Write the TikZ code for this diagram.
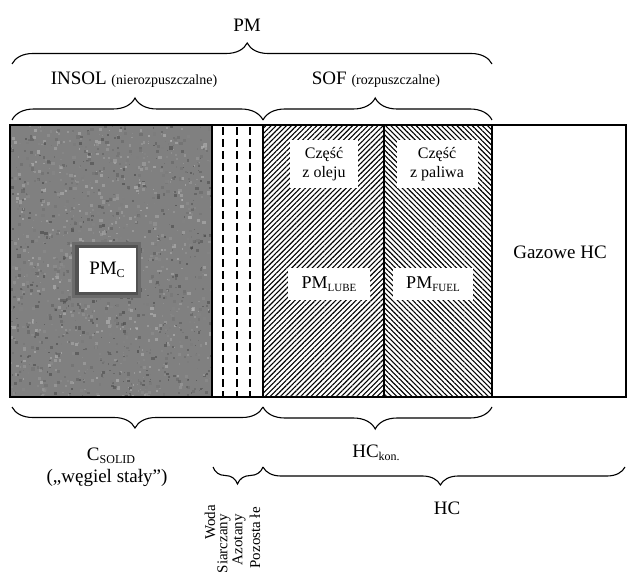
\documentclass[tikz,border=0pt]{standalone}
\usepackage{fontspec}
\setmainfont{Liberation Serif}
\usetikzlibrary{decorations.pathreplacing,patterns.meta}
\newcommand\lowsub[2][11]{\raisebox{-0.35ex}{\fontsize{#1}{#1}\selectfont #2}}
\begin{document}
\begin{tikzpicture}[x=1pt,y=-1pt,
  brup/.style={decorate,decoration={brace,amplitude=#1,aspect=0.49},line width=1.1pt},
  brdown/.style={decorate,decoration={brace,mirror,amplitude=#1,aspect=0.49},line width=1.1pt},
  lbl/.style={font=\fontsize{19}{21}\selectfont, inner sep=0pt},
  wbox/.style={fill=white, inner sep=0pt, align=center, font=\fontsize{16}{19}\selectfont},
  vtxt/.style={rotate=90, anchor=east, font=\fontsize{15}{15}\selectfont, inner sep=0pt}
]
\useasboundingbox (0,0) rectangle (627,575);

% regions
\fill[black!50] (10,125) rectangle (212,397);
\begin{scope}
  \clip (10,125) rectangle (212,397);
  \pgfmathsetseed{7}
  \foreach \i in {1,...,1600} {
    \pgfmathsetmacro{\px}{10+202*rnd}
    \pgfmathsetmacro{\py}{125+272*rnd}
    \pgfmathsetmacro{\pr}{1+2.5*rnd}
    \pgfmathsetmacro{\pc}{25+50*rnd}
    \fill[black!\pc, opacity=0.55] (\px,\py) rectangle ++(\pr,\pr);
  }
\end{scope}
\fill[pattern={Lines[angle=45,distance=3.6pt,line width=1.1pt]}] (263,125) rectangle (384,397);
\fill[pattern={Lines[angle=-45,distance=3.6pt,line width=1.1pt]}] (384,125) rectangle (492,397);

% dashed lines
\foreach \xx in {223,237,250}
  \draw[line width=1.5pt, dash pattern=on 8pt off 4pt] (\xx,127) -- (\xx,397);

% solid dividers
\draw[line width=1.8pt] (212,125) -- (212,397);
\draw[line width=1.2pt] (263,125) -- (263,397);
\draw[line width=1.2pt] (384,125) -- (384,397);
\draw[line width=1.2pt] (492,125) -- (492,397);
\draw[line width=1.4pt] (10,125) rectangle (626,397);

% boxes
\fill[black!58] (72,242) rectangle (141,298);
\fill[black!68] (75,245) rectangle (138,295);
\node[wbox, minimum width=57pt, minimum height=44pt, font=\fontsize{19}{21}\selectfont] (pmc) at (107,270) {PM\lowsub[12]{C}};
\node[wbox, minimum width=68pt, minimum height=48pt] (olej) at (324,164) {Część\\z oleju};
\node[wbox, minimum width=81pt, minimum height=48pt] (paliwo) at (437,164) {Część\\z paliwa};
\node[wbox, minimum width=82pt, minimum height=32pt, font=\fontsize{18}{20}\selectfont] (lube) at (329,284) {PM\lowsub{LUBE}};
\node[wbox, minimum width=80pt, minimum height=32pt, font=\fontsize{18}{20}\selectfont] (fuel) at (433,284) {PM\lowsub{FUEL}};
\node[lbl] (gaz) at (560,252) {Gazowe HC};

% top labels
\node[lbl] (pm) at (247,25) {PM};
\node[lbl] (insol) at (134,80) {INSOL {\fontsize{14}{16}\selectfont(nierozpuszczalne)}};
\node[lbl] (sof) at (376,80) {SOF {\fontsize{14}{16}\selectfont(rozpuszczalne)}};

% brace end points
\coordinate (t1) at (12,64);
\coordinate (t2) at (492,64);
\coordinate (s1) at (12,120);
\coordinate (s2) at (263,120);
\coordinate (s3) at (492,120);
\coordinate (b1) at (12,407);
\coordinate (b2) at (263,407);
\coordinate (b3) at (492,407);
\coordinate (c1) at (213,467);
\coordinate (c2) at (263,467);
\coordinate (c3) at (625,467);

\draw[brup=21pt] (t1) -- (t2);
\draw[brup=22pt] (s1) -- (s2);
\draw[brup=22pt] (s2) -- (s3);
\draw[brdown=21pt] (b1) -- (b2);
\draw[brdown=22pt] (b2) -- (b3);
\draw[brdown=17pt] (c1) -- (c2);
\draw[brdown=18pt] (c2) -- (c3);

% bottom labels
\node[lbl] (csolid) at (111,456) {C\lowsub[12]{SOLID}};
\node[lbl] (wegiel) at (107,478) {(„węgiel stały”)};
\node[lbl] (hckon) at (376,453) {HC\lowsub[12]{kon.}};
\node[lbl] (hc) at (447,508) {HC};

\node[vtxt] (woda) at (210,505) {Woda};
\node[vtxt] (siarczany) at (224,514) {Siarczany};
\node[vtxt] (azotany) at (239,514) {Azotany};
\node[vtxt] (pozostale) at (255,507) {Pozosta łe};
\end{tikzpicture}
\end{document}
